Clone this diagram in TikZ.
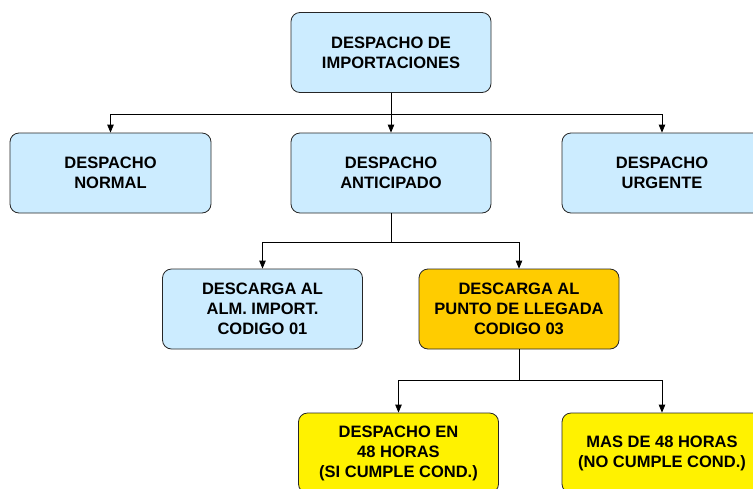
\documentclass[tikz,border=0pt]{standalone}
\usepackage{fontspec}
\setmainfont{Liberation Sans}
\usetikzlibrary{arrows.meta}
\definecolor{lblue}{HTML}{CCECFF}
\definecolor{orng}{HTML}{FFCC00}
\definecolor{ylw}{HTML}{FFF200}
\tikzset{
  box/.style={draw=black!85, line width=0.8pt, rounded corners=9pt, minimum width=200pt, minimum height=80pt, align=center, inner sep=0pt, font=\fontsize{16.5}{20}\selectfont\bfseries},
  arr/.style={draw=black, line width=0.8pt, -{Triangle[length=8pt,width=6.5pt]}}
}
\begin{document}
\begin{tikzpicture}[x=1pt,y=-1pt]
\useasboundingbox (0,0) rectangle (753,488);
\clip (0,0) rectangle (753,488);
\node[box, fill=lblue] (top) at (391,52.5) {DESPACHO DE\\IMPORTACIONES};
\node[box, fill=lblue, minimum width=201pt] (normal) at (110.5,173) {DESPACHO\\NORMAL};
\node[box, fill=lblue] (ant) at (391,173) {DESPACHO\\ANTICIPADO};
\node[box, fill=lblue] (urg) at (662,173) {DESPACHO\\URGENTE};
\node[box, fill=lblue] (alm) at (262.5,309) {DESCARGA AL\\ALM. IMPORT.\\CODIGO 01};
\node[box, fill=orng] (pto) at (519,309) {DESCARGA AL\\PUNTO DE LLEGADA\\CODIGO 03};
\node[box, fill=ylw] (d48) at (398.5,453) {DESPACHO EN\\48 HORAS\\(SI CUMPLE COND.)};
\node[box, fill=ylw] (m48) at (662,453) {MAS DE 48 HORAS\\(NO CUMPLE COND.)};
\draw[arr] (top.south) -- (ant.north);
\draw[arr] (top.south) -- ++(0,21) -| (normal.north);
\draw[arr] (top.south) -- ++(0,21) -| (urg.north);
\draw[arr] (ant.south) -- ++(0,29) -| (alm.north);
\draw[arr] (ant.south) -- ++(0,29) -| (pto.north);
\draw[arr] (pto.south) -- ++(0,31) -| (d48.north);
\draw[arr] (pto.south) -- ++(0,31) -| (m48.north);
\end{tikzpicture}
\end{document}
